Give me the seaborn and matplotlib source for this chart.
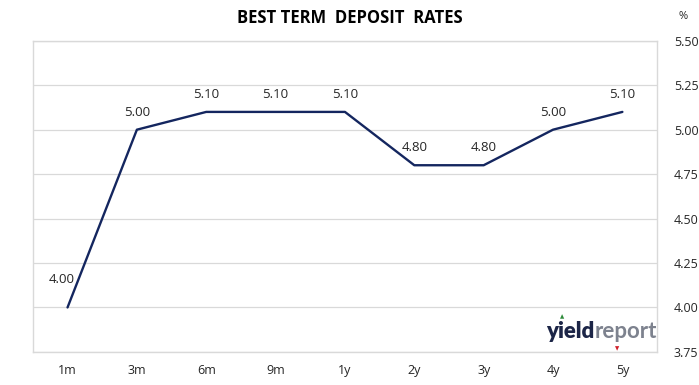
import matplotlib
matplotlib.use("Agg")
import matplotlib.pyplot as plt
import seaborn as sns
import pandas as pd

# chart data
terms = ["1m", "3m", "6m", "9m", "1y", "2y", "3y", "4y", "5y"]
rates = [4.00, 5.00, 5.10, 5.10, 5.10, 4.80, 4.80, 5.00, 5.10]
y_ticks = [3.75, 4.00, 4.25, 4.50, 4.75, 5.00, 5.25, 5.50]

navy = "#14265f"
grid_col = "#d9d9d9"
txt_col = "#262626"

sns.set_theme(style="white")
plt.rcParams["font.family"] = ["Open Sans", "DejaVu Sans"]

df = pd.DataFrame({"term": terms, "rate": rates})

fig = plt.figure(figsize=(6.99, 3.85), dpi=100)
ax = fig.add_axes([0.047, 0.086, 0.893, 0.808])

sns.lineplot(data=df, x="term", y="rate", sort=False, color=navy, linewidth=1.7, ax=ax)

ax.set_xlim(-0.5, len(terms) - 0.5)
ax.set_ylim(3.75, 5.5)
ax.set_yticks(y_ticks)
ax.set_yticklabels([f"{v:.2f}" for v in y_ticks])
ax.yaxis.tick_right()
ax.tick_params(axis="y", length=0, pad=12, labelsize=9, labelcolor=txt_col)
ax.tick_params(axis="x", length=0, pad=9, labelsize=9, labelcolor=txt_col)
ax.set_xlabel("")
ax.set_ylabel("")
ax.grid(axis="y", color=grid_col, linewidth=0.9)
ax.set_axisbelow(True)
for s in ax.spines.values():
    s.set_color(grid_col)
    s.set_linewidth(1.0)

# point labels
for i, (t, v) in enumerate(zip(terms, rates)):
    if i == 0:
        off = (-4, 20)
    else:
        off = (0, 12.5)
    ax.annotate(f"{v:.2f}", (i, v), xytext=off, textcoords="offset points",
                ha="center", va="center", fontsize=9.5, color=txt_col)

fig.text(0.5, 0.952, "BEST TERM  DEPOSIT  RATES", ha="center", va="center",
         fontsize=12, fontweight="bold", color="black")
fig.text(0.977, 0.958, "%", ha="center", va="center", fontsize=8, color=txt_col)

# logo
logo_font = ["Lato", "DejaVu Sans"]
t1 = ax.text(0.822, 0.045, "yield", transform=ax.transAxes, ha="left", va="baseline",
             fontsize=16, fontweight="heavy", color="#1c2547", family=logo_font)
ax.annotate("report", xy=(1, 0), xycoords=t1, ha="left", va="bottom",
            fontsize=16, fontweight="bold", color="#7d828e", family=logo_font)
# little arrows of the logo
fig.text(562 / 699, 1 - 317 / 385, "\u25B2", ha="center", va="center",
         fontsize=4, color="#2e8b3a", family="DejaVu Sans")
fig.text(617 / 699, 1 - 349 / 385, "\u25BC", ha="center", va="center",
         fontsize=4, color="#d0202a", family="DejaVu Sans")

fig.savefig("out.png", dpi=100, facecolor="white")
